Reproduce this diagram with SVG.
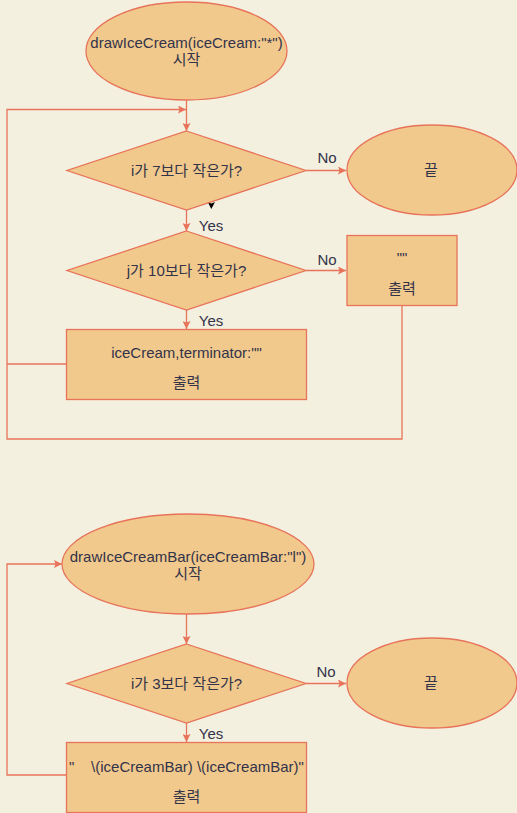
<svg xmlns="http://www.w3.org/2000/svg" width="517" height="813" viewBox="0 0 517 813">
<style>
.n{fill:#f1c98c;stroke:#e7735a;stroke-width:1.3}
.c{fill:none;stroke:#e7735a;stroke-width:1.3}
text{font-family:"Liberation Sans","Noto Sans CJK KR",sans-serif;font-size:15px;fill:#33334a;text-anchor:middle}
</style>
<defs>
<marker id="a" viewBox="0 0 10 10" refX="10" refY="5" markerWidth="8" markerHeight="8" markerUnits="userSpaceOnUse" orient="auto">
<path d="M0,0 L10,5 L0,10 L2,5 Z" fill="#e7735a"/>
</marker>
</defs>
<rect width="517" height="813" fill="#f4f0df"/>
<g id="connectors">
<path class="c" d="M186.5,100 V131" marker-end="url(#a)"/>
<path class="c" d="M67,364 H7"/>
<path class="c" d="M402,305 V439 H7 V109.5 H186" marker-end="url(#a)"/>
<path class="c" d="M306,170.5 H346" marker-end="url(#a)"/>
<path class="c" d="M186.5,210 V231" marker-end="url(#a)"/>
<path class="c" d="M306,270.5 H346" marker-end="url(#a)"/>
<path class="c" d="M186.5,310 V329" marker-end="url(#a)"/>
<path class="c" d="M186.5,614 V644" marker-end="url(#a)"/>
<path class="c" d="M67,775 H7 V564 H62" marker-end="url(#a)"/>
<path class="c" d="M306,683.5 H346" marker-end="url(#a)"/>
<path class="c" d="M186.5,723 V742" marker-end="url(#a)"/>
<path d="M207.7,202 L211.3,203.5 L215,202 L211.3,209 Z" fill="#000"/>
<text x="327" y="163">No</text>
<text x="211" y="231">Yes</text>
<text x="327" y="265">No</text>
<text x="211" y="326">Yes</text>
<text x="326" y="677">No</text>
<text x="211" y="739">Yes</text>
</g>
<g id="start1">
<ellipse class="n" cx="186.5" cy="51" rx="100.5" ry="49"/>
<text x="186.5" y="48">drawIceCream(iceCream:"*")</text>
<text x="186.5" y="65">시작</text>
</g>
<g id="cond1">
<polygon class="n" points="186.5,131 306,170.5 186.5,210 67,170.5"/>
<text x="186.5" y="176">i가 7보다 작은가?</text>
</g>
<g id="end1">
<ellipse class="n" cx="432" cy="170" rx="85" ry="45"/>
<text x="431" y="175">끝</text>
</g>
<g id="cond2">
<polygon class="n" points="186.5,231 306,270.5 186.5,310 67,270.5"/>
<text x="186.5" y="276">j가 10보다 작은가?</text>
</g>
<g id="print2">
<rect class="n" x="347" y="235.5" width="110" height="70"/>
<text x="402" y="263">""</text>
<text x="402" y="294">출력</text>
</g>
<g id="print1">
<rect class="n" x="66.5" y="329.5" width="240" height="70"/>
<text x="186.5" y="358">iceCream,terminator:""</text>
<text x="186.5" y="388">출력</text>
</g>
<g id="start2">
<ellipse class="n" cx="188" cy="564" rx="126" ry="50"/>
<text x="188" y="562">drawIceCreamBar(iceCreamBar:"l")</text>
<text x="188" y="579">시작</text>
</g>
<g id="cond3">
<polygon class="n" points="186.5,644 306,683.5 186.5,723 67,683.5"/>
<text x="186.5" y="689">i가 3보다 작은가?</text>
</g>
<g id="end2">
<ellipse class="n" cx="432" cy="683" rx="85" ry="45"/>
<text x="431" y="688">끝</text>
</g>
<g id="print3">
<rect class="n" x="66.5" y="742.5" width="240" height="70"/>
<text x="186.5" y="772" xml:space="preserve">"    \(iceCreamBar) \(iceCreamBar)"</text>
<text x="186.5" y="802">출력</text>
</g>
</svg>
